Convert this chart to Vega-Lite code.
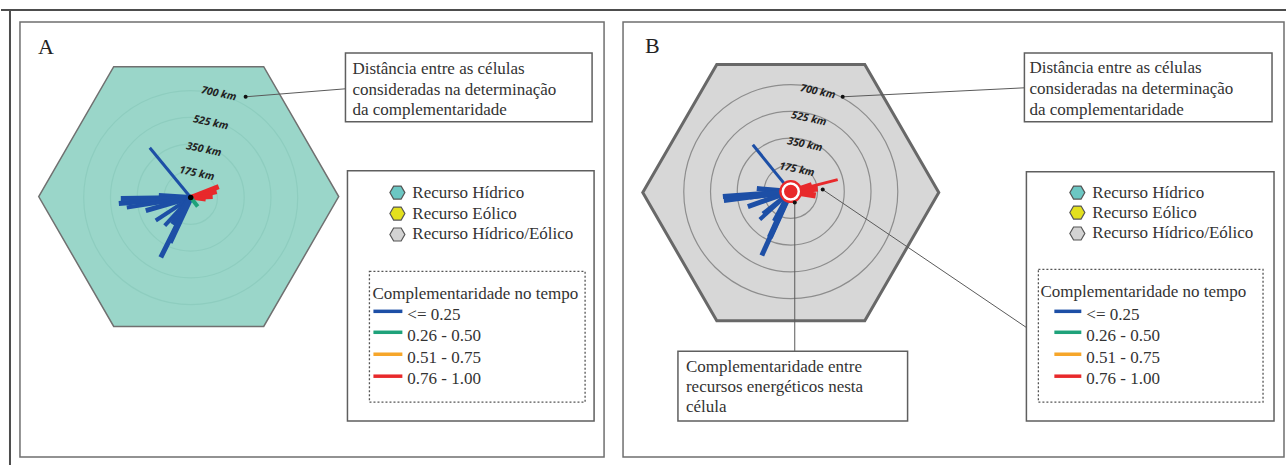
{
  "$schema": "https://vega.github.io/schema/vega-lite/v6.json",
  "width": 1287,
  "height": 466,
  "autosize": {"type": "fit", "contains": "padding"},
  "padding": 0,
  "background": "white",
  "config": {"view": {"stroke": null}},
  "datasets": {
    "moldura": [
      {"x": 0, "y": 10, "x2": 1287, "y2": 10},
      {"x": 9, "y": 10, "x2": 9, "y2": 466}
    ],
    "paineis": [
      {"x": 19, "y": 22, "x2": 604, "y2": 458},
      {"x": 623, "y": 22, "x2": 1285, "y2": 458}
    ],
    "celulaA": [{"x": 188, "y": 197}],
    "celulaB": [{"x": 791, "y": 193}],
    "aneis": [
      {"x": 190, "y": 198, "painel": "A", "km": 175},
      {"x": 190, "y": 198, "painel": "A", "km": 350},
      {"x": 190, "y": 198, "painel": "A", "km": 525},
      {"x": 190, "y": 198, "painel": "A", "km": 700},
      {"x": 791, "y": 192, "painel": "B", "km": 175},
      {"x": 791, "y": 192, "painel": "B", "km": 350},
      {"x": 791, "y": 192, "painel": "B", "km": 525},
      {"x": 791, "y": 192, "painel": "B", "km": 700}
    ],
    "raios": [
      {"x": 190, "y": 198, "x2": 149, "y2": 148, "classe": "<= 0.25", "esp": "t1"},
      {"x": 190, "y": 198, "x2": 158, "y2": 196, "classe": "<= 0.25", "esp": "t3"},
      {"x": 190, "y": 198, "x2": 120, "y2": 199, "classe": "<= 0.25", "esp": "t3"},
      {"x": 190, "y": 198, "x2": 118, "y2": 204, "classe": "<= 0.25", "esp": "t3"},
      {"x": 190, "y": 198, "x2": 140, "y2": 202, "classe": "<= 0.25", "esp": "t4"},
      {"x": 190, "y": 198, "x2": 126, "y2": 208, "classe": "<= 0.25", "esp": "t2"},
      {"x": 190, "y": 198, "x2": 145, "y2": 211, "classe": "<= 0.25", "esp": "t3"},
      {"x": 190, "y": 198, "x2": 155, "y2": 221, "classe": "<= 0.25", "esp": "t2"},
      {"x": 190, "y": 198, "x2": 164, "y2": 226, "classe": "<= 0.25", "esp": "t2"},
      {"x": 190, "y": 198, "x2": 172, "y2": 225, "classe": "<= 0.25", "esp": "t4"},
      {"x": 190, "y": 198, "x2": 169, "y2": 243, "classe": "<= 0.25", "esp": "t4"},
      {"x": 190, "y": 198, "x2": 160, "y2": 258, "classe": "<= 0.25", "esp": "t3"},
      {"x": 190, "y": 198, "x2": 218, "y2": 187, "classe": "0.76 - 1.00", "esp": "t3"},
      {"x": 190, "y": 198, "x2": 216, "y2": 192, "classe": "0.76 - 1.00", "esp": "t3"},
      {"x": 190, "y": 198, "x2": 212, "y2": 197, "classe": "0.76 - 1.00", "esp": "t3"},
      {"x": 190, "y": 198, "x2": 205, "y2": 200, "classe": "0.76 - 1.00", "esp": "t2"},
      {"x": 190, "y": 198, "x2": 197, "y2": 207, "classe": "0.26 - 0.50", "esp": "t2"},
      {"x": 791, "y": 192, "x2": 753, "y2": 145, "classe": "<= 0.25", "esp": "t1"},
      {"x": 791, "y": 192, "x2": 757, "y2": 189, "classe": "<= 0.25", "esp": "t3"},
      {"x": 791, "y": 192, "x2": 723, "y2": 197, "classe": "<= 0.25", "esp": "t3"},
      {"x": 791, "y": 192, "x2": 724, "y2": 201, "classe": "<= 0.25", "esp": "t3"},
      {"x": 791, "y": 192, "x2": 750, "y2": 197, "classe": "<= 0.25", "esp": "t4"},
      {"x": 791, "y": 192, "x2": 748, "y2": 207, "classe": "<= 0.25", "esp": "t3"},
      {"x": 791, "y": 192, "x2": 763, "y2": 214, "classe": "<= 0.25", "esp": "t2"},
      {"x": 791, "y": 192, "x2": 760, "y2": 220, "classe": "<= 0.25", "esp": "t2"},
      {"x": 791, "y": 192, "x2": 775, "y2": 222, "classe": "<= 0.25", "esp": "t4"},
      {"x": 791, "y": 192, "x2": 770, "y2": 238, "classe": "<= 0.25", "esp": "t4"},
      {"x": 791, "y": 192, "x2": 762, "y2": 256, "classe": "<= 0.25", "esp": "t3"},
      {"x": 791, "y": 192, "x2": 838, "y2": 180, "classe": "0.76 - 1.00", "esp": "t1"},
      {"x": 791, "y": 192, "x2": 818, "y2": 189, "classe": "0.76 - 1.00", "esp": "t4"},
      {"x": 791, "y": 192, "x2": 816, "y2": 196, "classe": "0.76 - 1.00", "esp": "t4"},
      {"x": 791, "y": 192, "x2": 812, "y2": 185, "classe": "0.76 - 1.00", "esp": "t3"}
    ],
    "centroA": [{"x": 190, "y": 198}],
    "centroB": [{"x": 791, "y": 192}],
    "setas": [
      {"x": 245, "y": 97},
      {"x": 843, "y": 97},
      {"x": 823, "y": 190},
      {"x": 795, "y": 203}
    ],
    "ligacoes": [
      {"x": 245, "y": 97, "x2": 345, "y2": 89},
      {"x": 843, "y": 97, "x2": 1025, "y2": 88},
      {"x": 823, "y": 190, "x2": 1040, "y2": 337},
      {"x": 795, "y": 203, "x2": 795, "y2": 352}
    ],
    "caixas": [
      {"x": 345, "y": 53, "x2": 592, "y2": 122},
      {"x": 347, "y": 171, "x2": 594, "y2": 422},
      {"x": 1025, "y": 53, "x2": 1273, "y2": 122},
      {"x": 1027, "y": 172, "x2": 1275, "y2": 422},
      {"x": 678, "y": 352, "x2": 908, "y2": 422}
    ],
    "tracejadas": [
      {"x": 369, "y": 272, "x2": 585, "y2": 403},
      {"x": 1039, "y": 270, "x2": 1264, "y2": 403}
    ],
    "icones": [
      {"x": 397, "y": 193, "tipo": "Recurso Hídrico"},
      {"x": 397, "y": 214, "tipo": "Recurso Eólico"},
      {"x": 397, "y": 235, "tipo": "Recurso Hídrico/Eólico"},
      {"x": 1078, "y": 193, "tipo": "Recurso Hídrico"},
      {"x": 1078, "y": 213, "tipo": "Recurso Eólico"},
      {"x": 1078, "y": 234, "tipo": "Recurso Hídrico/Eólico"}
    ],
    "linhasLegenda": [
      {"x": 373, "x2": 402, "y": 312, "classe": "<= 0.25"},
      {"x": 373, "x2": 402, "y": 333, "classe": "0.26 - 0.50"},
      {"x": 373, "x2": 402, "y": 355, "classe": "0.51 - 0.75"},
      {"x": 373, "x2": 402, "y": 377, "classe": "0.76 - 1.00"},
      {"x": 1055, "x2": 1082, "y": 312, "classe": "<= 0.25"},
      {"x": 1055, "x2": 1082, "y": 333, "classe": "0.26 - 0.50"},
      {"x": 1055, "x2": 1082, "y": 355, "classe": "0.51 - 0.75"},
      {"x": 1055, "x2": 1082, "y": 377, "classe": "0.76 - 1.00"}
    ],
    "textos": [
      {"x": 352, "y": 69, "t": "Distância entre as células"},
      {"x": 352, "y": 90, "t": "consideradas na determinação"},
      {"x": 352, "y": 110, "t": "da complementaridade"},
      {"x": 1030, "y": 68, "t": "Distância entre as células"},
      {"x": 1030, "y": 89, "t": "consideradas na determinação"},
      {"x": 1030, "y": 110, "t": "da complementaridade"},
      {"x": 412, "y": 193, "t": "Recurso Hídrico"},
      {"x": 412, "y": 214, "t": "Recurso Eólico"},
      {"x": 412, "y": 235, "t": "Recurso Hídrico/Eólico"},
      {"x": 1093, "y": 193, "t": "Recurso Hídrico"},
      {"x": 1093, "y": 213, "t": "Recurso Eólico"},
      {"x": 1093, "y": 234, "t": "Recurso Hídrico/Eólico"},
      {"x": 372, "y": 295, "t": "Complementaridade no tempo"},
      {"x": 1041, "y": 293, "t": "Complementaridade no tempo"},
      {"x": 407, "y": 316, "t": "<= 0.25"},
      {"x": 407, "y": 337, "t": "0.26 - 0.50"},
      {"x": 407, "y": 359, "t": "0.51 - 0.75"},
      {"x": 407, "y": 380, "t": "0.76 - 1.00"},
      {"x": 1087, "y": 316, "t": "<= 0.25"},
      {"x": 1087, "y": 337, "t": "0.26 - 0.50"},
      {"x": 1087, "y": 359, "t": "0.51 - 0.75"},
      {"x": 1087, "y": 380, "t": "0.76 - 1.00"},
      {"x": 686, "y": 368, "t": "Complementaridade entre"},
      {"x": 686, "y": 388, "t": "recursos energéticos nesta"},
      {"x": 686, "y": 408, "t": "célula"}
    ],
    "letras": [
      {"x": 37, "y": 47, "t": "A"},
      {"x": 645, "y": 46, "t": "B"}
    ],
    "distancias": [
      {"x": 218, "y": 94, "t": "700 km"},
      {"x": 210, "y": 123, "t": "525 km"},
      {"x": 203, "y": 150, "t": "350 km"},
      {"x": 196, "y": 174, "t": "175 km"},
      {"x": 818, "y": 92, "t": "700 km"},
      {"x": 809, "y": 119, "t": "525 km"},
      {"x": 805, "y": 145, "t": "350 km"},
      {"x": 797, "y": 170, "t": "175 km"}
    ]
  },
  "encoding": {
    "x": {"field": "x", "type": "quantitative", "scale": {"domain": [0, 1287], "nice": false, "zero": false}, "axis": null},
    "y": {"field": "y", "type": "quantitative", "scale": {"domain": [0, 466], "nice": false, "zero": false, "reverse": true}, "axis": null}
  },
  "layer": [
    {
      "data": {"name": "moldura"},
      "mark": {"type": "rule", "stroke": "#4d4d4d", "strokeWidth": 2},
      "encoding": {"x2": {"field": "x2"}, "y2": {"field": "y2"}}
    },
    {
      "data": {"name": "paineis"},
      "mark": {"type": "rect", "fill": "white", "stroke": "#6f6f6f", "strokeWidth": 1.5},
      "encoding": {"x2": {"field": "x2"}, "y2": {"field": "y2"}}
    },
    {
      "data": {"name": "celulaA"},
      "mark": {"type": "point", "shape": "M-1,0L-0.5,-0.866L0.5,-0.866L1,0L0.5,0.866L-0.5,0.866Z", "size": 90000, "filled": true, "fill": "#9ad6c9", "fillOpacity": 1, "stroke": "#707070", "strokeWidth": 1.5, "opacity": 1}
    },
    {
      "data": {"name": "celulaB"},
      "mark": {"type": "point", "shape": "M-1,0L-0.5,-0.866L0.5,-0.866L1,0L0.5,0.866L-0.5,0.866Z", "size": 87616, "filled": true, "fill": "#d7d7d7", "fillOpacity": 1, "stroke": "#686868", "strokeWidth": 3, "opacity": 1}
    },
    {
      "data": {"name": "aneis"},
      "mark": {"type": "point", "shape": "circle", "filled": false, "strokeWidth": 1.2, "opacity": 1},
      "encoding": {
        "size": {"field": "km", "type": "quantitative", "scale": {"type": "pow", "exponent": 2, "domain": [0, 700], "range": [0, 45796]}, "legend": null},
        "stroke": {"field": "painel", "type": "nominal", "scale": {"domain": ["A", "B"], "range": ["#8ecdbf", "#8d8d8d"]}, "legend": null}
      }
    },
    {
      "data": {"name": "raios"},
      "mark": {"type": "rule", "strokeCap": "butt"},
      "encoding": {
        "x2": {"field": "x2"},
        "y2": {"field": "y2"},
        "color": {"field": "classe", "type": "nominal", "scale": {"domain": ["<= 0.25", "0.26 - 0.50", "0.51 - 0.75", "0.76 - 1.00"], "range": ["#1d4fa6", "#1ea27a", "#f6a62a", "#e8292b"]}, "legend": null},
        "strokeWidth": {"field": "esp", "type": "ordinal", "scale": {"domain": ["t1", "t2", "t3", "t4"], "range": [3, 6, 8, 11]}, "legend": null}
      }
    },
    {
      "data": {"name": "centroA"},
      "mark": {"type": "point", "shape": "circle", "filled": true, "fill": "black", "size": 30, "opacity": 1}
    },
    {
      "data": {"name": "centroB"},
      "mark": {"type": "point", "shape": "circle", "filled": true, "fill": "#e8292b", "size": 530, "opacity": 1}
    },
    {
      "data": {"name": "centroB"},
      "mark": {"type": "point", "shape": "circle", "filled": false, "stroke": "white", "strokeWidth": 2.5, "size": 256, "opacity": 1}
    },
    {
      "data": {"name": "ligacoes"},
      "mark": {"type": "rule", "stroke": "#5a5a5a", "strokeWidth": 1},
      "encoding": {"x2": {"field": "x2"}, "y2": {"field": "y2"}}
    },
    {
      "data": {"name": "setas"},
      "mark": {"type": "point", "shape": "circle", "filled": true, "fill": "#111", "size": 16, "opacity": 1}
    },
    {
      "data": {"name": "caixas"},
      "mark": {"type": "rect", "fill": "white", "stroke": "#5f5f5f", "strokeWidth": 1.5},
      "encoding": {"x2": {"field": "x2"}, "y2": {"field": "y2"}}
    },
    {
      "data": {"name": "tracejadas"},
      "mark": {"type": "rect", "fill": "white", "fillOpacity": 0, "stroke": "#555555", "strokeWidth": 1.3, "strokeDash": [2, 2]},
      "encoding": {"x2": {"field": "x2"}, "y2": {"field": "y2"}}
    },
    {
      "data": {"name": "icones"},
      "mark": {"type": "point", "shape": "M-1,0L-0.5,-0.866L0.5,-0.866L1,0L0.5,0.866L-0.5,0.866Z", "size": 225, "filled": true, "stroke": "#555555", "strokeWidth": 1.2, "opacity": 1},
      "encoding": {
        "fill": {"field": "tipo", "type": "nominal", "scale": {"domain": ["Recurso Hídrico", "Recurso Eólico", "Recurso Hídrico/Eólico"], "range": ["#6cc7c3", "#e3e01e", "#d3d3d3"]}, "legend": null}
      }
    },
    {
      "data": {"name": "linhasLegenda"},
      "mark": {"type": "rule", "strokeWidth": 3.5, "strokeCap": "butt"},
      "encoding": {
        "x2": {"field": "x2"},
        "color": {"field": "classe", "type": "nominal", "legend": null}
      }
    },
    {
      "data": {"name": "textos"},
      "mark": {"type": "text", "align": "left", "baseline": "middle", "font": "Liberation Serif", "fontSize": 17, "fill": "#333333"},
      "encoding": {"text": {"field": "t"}}
    },
    {
      "data": {"name": "letras"},
      "mark": {"type": "text", "align": "left", "baseline": "middle", "font": "Liberation Serif", "fontSize": 22, "fill": "#222222"},
      "encoding": {"text": {"field": "t"}}
    },
    {
      "data": {"name": "distancias"},
      "mark": {"type": "text", "align": "center", "baseline": "middle", "font": "Open Sans", "fontSize": 10.5, "fontStyle": "italic", "fontWeight": "bold", "angle": 12, "fill": "#222222"},
      "encoding": {"text": {"field": "t"}}
    }
  ]
}
